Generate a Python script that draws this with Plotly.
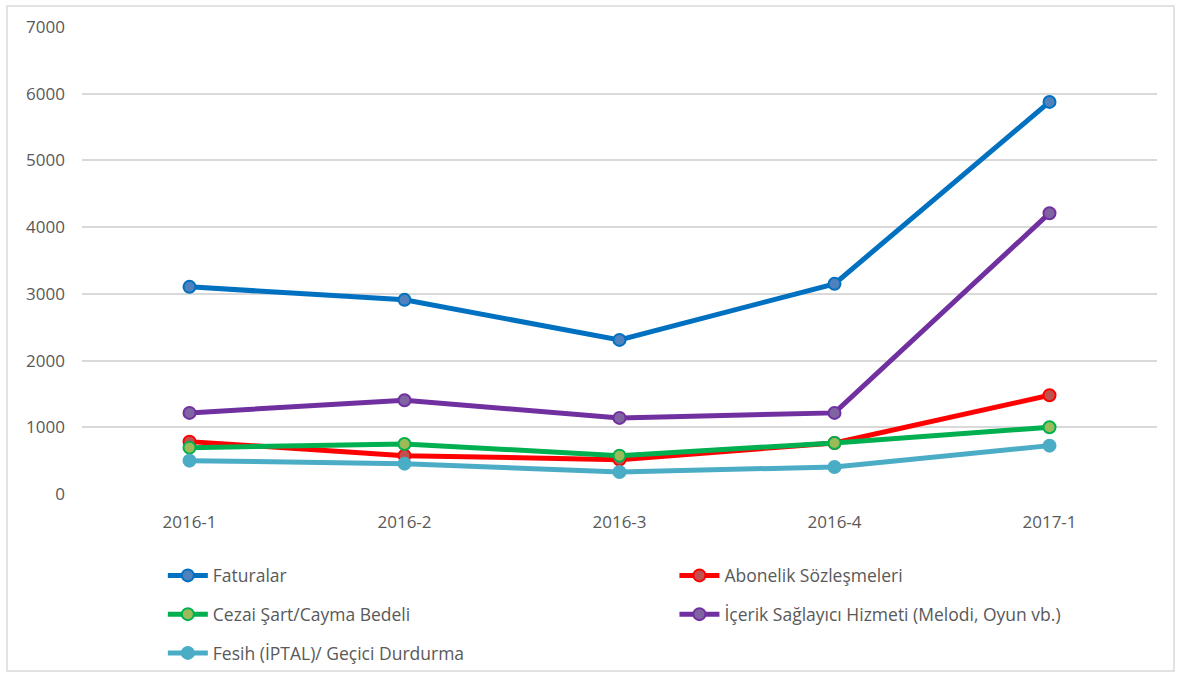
import plotly.graph_objects as go

categories = ["2016-1", "2016-2", "2016-3", "2016-4", "2017-1"]
faturalar = [3105, 2910, 2310, 3150, 5877]
abonelik = [785, 575, 515, 765, 1480]
cezai = [695, 750, 575, 765, 1000]
icerik = [1216, 1405, 1141, 1216, 4209]
fesih = [500, 455, 330, 405, 725]

series = [
    ("Faturalar", faturalar, "#0070C0", "#4F81BD", "legend"),
    ("Abonelik Sözleşmeleri", abonelik, "#FF0000", "#C0504D", "legend2"),
    ("Cezai Şart/Cayma Bedeli", cezai, "#00B050", "#9BBB59", "legend"),
    ("İçerik Sağlayıcı Hizmeti (Melodi, Oyun vb.)", icerik, "#7030A0", "#8064A2", "legend2"),
    ("Fesih (İPTAL)/ Geçici Durdurma", fesih, "#4BACC6", "#4BACC6", "legend"),
]

fig = go.Figure()
for name, vals, lc, mc, lg in series:
    fig.add_trace(go.Scatter(
        x=categories, y=vals, name=name, mode="lines+markers",
        line=dict(color=lc, width=5),
        marker=dict(size=12, color=mc, line=dict(color=lc, width=2)),
        legend=lg, legendgroup=name,
    ))

font = "'Open Sans', Lato, sans-serif"
fig.update_layout(
    width=1181, height=678,
    margin=dict(l=82, r=24, t=27, b=184, autoexpand=False),
    paper_bgcolor="white", plot_bgcolor="white",
    font=dict(family=font, size=17, color="#595959"),
    showlegend=True,
    xaxis=dict(type="category", range=[-0.5, 4.5], showgrid=False, showline=False,
               zeroline=False, ticks="", ticklabelstandoff=16,
               tickfont=dict(size=17, color="#595959")),
    yaxis=dict(range=[0, 7000], dtick=1000, showgrid=True, gridcolor="#D9D9D9",
               gridwidth=1.5, zeroline=False, showline=False, ticks="",
               ticklabelstandoff=16, tickfont=dict(size=17, color="#595959")),
    legend=dict(x=0.0752, xanchor="left", y=-0.136, yanchor="top",
                orientation="v", tracegroupgap=13, bgcolor="rgba(0,0,0,0)",
                font=dict(size=17.5, color="#595959"), itemwidth=40),
    legend2=dict(x=0.5511, xanchor="left", y=-0.136, yanchor="top",
                 orientation="v", tracegroupgap=13, bgcolor="rgba(0,0,0,0)",
                 font=dict(size=17.5, color="#595959"), itemwidth=40),
    shapes=[dict(type="rect", xref="paper", yref="paper",
                 x0=(7 - 82) / 1075, x1=(1174 - 82) / 1075,
                 y0=(494 - 671) / 467, y1=(494 - 6) / 467,
                 line=dict(color="#D9D9D9", width=1.5), fillcolor="rgba(0,0,0,0)",
                 layer="below")],
)

fig.write_html("out.html", config={"displayModeBar": False},
               post_script="document.body.style.margin='0';")
